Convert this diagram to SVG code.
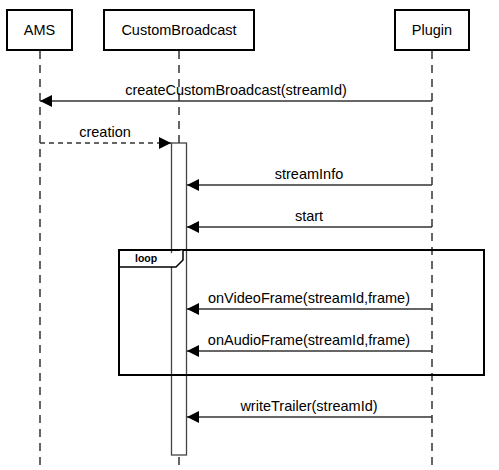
<svg xmlns="http://www.w3.org/2000/svg" width="499" height="470" viewBox="0 0 499 470">
<defs>
<style>
.box{fill:#fff;stroke:#000;stroke-width:2}
.life{stroke:#000;stroke-width:1.2;stroke-dasharray:8 6;fill:none}
.msg{stroke:#333;stroke-width:1.3;fill:none}
.dash{stroke-dasharray:5 4}
.t{font-family:"Liberation Sans",Arial,sans-serif;font-size:14.5px;fill:#000;text-anchor:middle}
.act{fill:#fff;stroke:#444;stroke-width:1.3}
.frame{fill:none;stroke:#000;stroke-width:2}
</style>
<marker id="ah" viewBox="0 0 12 12" refX="12" refY="6" markerWidth="12" markerHeight="12" markerUnits="userSpaceOnUse" orient="auto">
<path d="M0,0 L12,6 L0,12 Z" fill="#000"/>
</marker>
</defs>
<rect width="499" height="470" fill="#fff"/>
<g id="lifelines">
<line class="life" x1="40" y1="51" x2="40" y2="470"/>
<line class="life" x1="179" y1="51" x2="179" y2="470"/>
<line class="life" x1="432" y1="51" x2="432" y2="470"/>
</g>
<g id="AMS"><rect class="box" x="7" y="10" width="65" height="40"/><text class="t" x="39.5" y="35">AMS</text></g>
<g id="CustomBroadcast"><rect class="box" x="104" y="10" width="150" height="40"/><text class="t" x="179" y="35">CustomBroadcast</text></g>
<g id="Plugin"><rect class="box" x="395" y="10" width="74" height="40"/><text class="t" x="432" y="35">Plugin</text></g>
<g id="activation"><rect class="act" x="171.5" y="143" width="15" height="312"/></g>
<g id="loop">
<rect class="frame" x="119" y="250" width="365" height="125"/>
<path d="M119,267 L176,267 L183,260 L183,250" fill="#fff" stroke="#000" stroke-width="1.5"/>
<text x="135" y="262" font-family="Liberation Sans,Arial,sans-serif" font-size="10.5" font-weight="bold">loop</text>
</g>
<g id="connectors">
<line class="msg" x1="432" y1="101" x2="40" y2="101" marker-end="url(#ah)"/>
<text class="t" x="236" y="95">createCustomBroadcast(streamId)</text>
<line class="msg dash" x1="40" y1="143" x2="171" y2="143" marker-end="url(#ah)"/>
<text class="t" x="105" y="137">creation</text>
<line class="msg" x1="432" y1="185" x2="187" y2="185" marker-end="url(#ah)"/>
<text class="t" x="309" y="179">streamInfo</text>
<line class="msg" x1="432" y1="227" x2="187" y2="227" marker-end="url(#ah)"/>
<text class="t" x="309" y="221">start</text>
<line class="msg" x1="432" y1="309" x2="187" y2="309" marker-end="url(#ah)"/>
<text class="t" x="309" y="303">onVideoFrame(streamId,frame)</text>
<line class="msg" x1="432" y1="351" x2="187" y2="351" marker-end="url(#ah)"/>
<text class="t" x="309" y="345">onAudioFrame(streamId,frame)</text>
<line class="msg" x1="432" y1="417" x2="187" y2="417" marker-end="url(#ah)"/>
<text class="t" x="309" y="411">writeTrailer(streamId)</text>
</g>
</svg>
